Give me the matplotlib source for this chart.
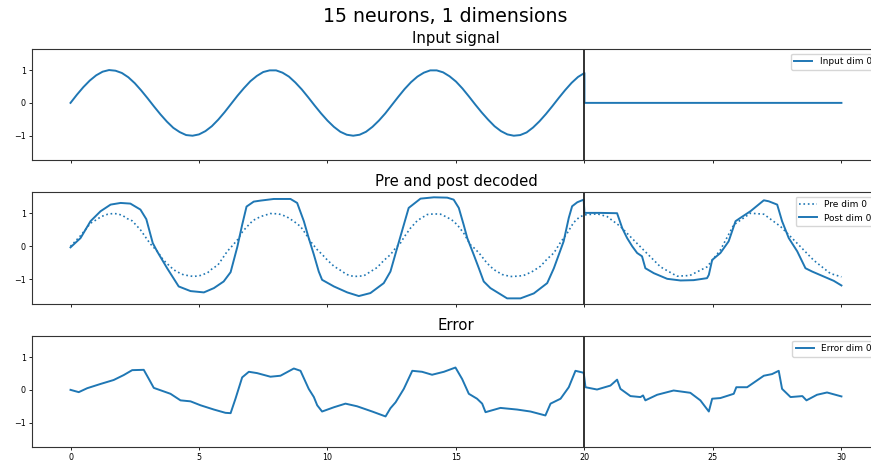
import numpy as np
import matplotlib
matplotlib.use("Agg")
import matplotlib.pyplot as plt

# ---- data (time in s) ----
# input signal: sine up to t=20, then held at zero
t_in = [0.0, 0.25, 0.5, 0.75, 1.0, 1.25, 1.5, 1.75, 2.0, 2.25, 2.5, 2.75, 3.0, 3.25, 3.5, 3.75,
        4.0, 4.25, 4.5, 4.75, 5.0, 5.25, 5.5, 5.75, 6.0, 6.25, 6.5, 6.75, 7.0, 7.25, 7.5, 7.75,
        8.0, 8.25, 8.5, 8.75, 9.0, 9.25, 9.5, 9.75, 10.0, 10.25, 10.5, 10.75, 11.0, 11.25, 11.5, 11.75,
        12.0, 12.25, 12.5, 12.75, 13.0, 13.25, 13.5, 13.75, 14.0, 14.25, 14.5, 14.75, 15.0, 15.25, 15.5, 15.75,
        16.0, 16.25, 16.5, 16.75, 17.0, 17.25, 17.5, 17.75, 18.0, 18.25, 18.5, 18.75, 19.0, 19.25, 19.5, 19.75,
        20.0, 20.0, 30.0]
input_sig = [0.00, 0.25, 0.48, 0.68, 0.84, 0.95, 1.00, 0.98, 0.91, 0.78, 0.60, 0.38, 0.14, -0.11, -0.35, -0.57,
             -0.76, -0.89, -0.98, -1.00, -0.96, -0.86, -0.71, -0.51, -0.28, -0.03, 0.22, 0.45, 0.66, 0.82, 0.94, 0.99,
             0.99, 0.92, 0.80, 0.62, 0.41, 0.17, -0.08, -0.32, -0.54, -0.73, -0.88, -0.97, -1.00, -0.97, -0.88, -0.73,
             -0.54, -0.32, -0.07, 0.18, 0.42, 0.63, 0.80, 0.92, 0.99, 0.99, 0.93, 0.81, 0.65, 0.44, 0.20, -0.05,
             -0.29, -0.51, -0.71, -0.86, -0.96, -1.00, -0.98, -0.90, -0.75, -0.56, -0.34, -0.10, 0.15, 0.39, 0.61, 0.79,
             0.91, 0.00, 0.00]

# decoded output of the pre population
t_pre = [0.0, 0.4, 0.78, 1.0, 1.2, 1.45, 1.65, 1.85, 2.05, 2.2, 2.4, 2.72, 2.9, 3.1, 3.38, 3.6, 3.89,
         4.1, 4.4, 4.79, 5.05, 5.33, 5.55, 5.72, 5.9, 6.1, 6.3, 6.5, 6.7, 6.9, 7.1, 7.4, 7.78,
         8.1, 8.4, 8.7, 8.95, 9.15, 9.34, 9.6, 9.8, 9.99, 10.25, 10.5, 10.75, 11.02, 11.41, 11.7, 11.93,
         12.2, 12.45, 12.65, 12.84, 13.0, 13.23, 13.5, 13.88, 14.15, 14.4, 14.65, 14.91, 15.1, 15.3, 15.56, 15.75,
         15.95, 16.2, 16.47, 16.8, 17.12, 17.4, 17.63, 17.95, 18.29, 18.55, 18.81, 19.05, 19.33, 19.58, 19.8, 20.0,
         20.5, 20.88, 21.4, 21.79, 22.3, 22.96, 23.6, 24.1, 24.77, 25.29, 25.81, 26.46, 26.98, 27.63, 28.28,
         28.92, 29.57, 30.0]
pre = [0.00, 0.33, 0.70, 0.80, 0.90, 0.97, 0.99, 0.98, 0.92, 0.84, 0.77, 0.50, 0.30, 0.08, -0.15, -0.40, -0.62,
       -0.75, -0.86, -0.91, -0.88, -0.80, -0.65, -0.58, -0.38, -0.15, 0.02, 0.20, 0.45, 0.62, 0.78, 0.90, 0.99,
       0.98, 0.90, 0.75, 0.60, 0.38, 0.15, -0.10, -0.25, -0.41, -0.60, -0.72, -0.85, -0.91, -0.89, -0.75, -0.64,
       -0.42, -0.25, -0.05, 0.10, 0.30, 0.55, 0.78, 0.96, 0.98, 0.97, 0.88, 0.76, 0.60, 0.40, 0.05, -0.08,
       -0.25, -0.50, -0.70, -0.85, -0.91, -0.90, -0.88, -0.77, -0.60, -0.38, -0.20, 0.10, 0.40, 0.72, 0.88, 0.95,
       0.98, 0.90, 0.60, 0.29, -0.11, -0.62, -0.90, -0.88, -0.62, -0.11, 0.65, 1.00, 0.97, 0.60, 0.09,
       -0.42, -0.82, -0.92]

# decoded output of the post population
t_post = [0.0, 0.39, 0.78, 1.17, 1.56, 1.95, 2.33, 2.72, 2.95, 3.2, 3.37, 3.76, 4.21, 4.67, 5.19, 5.58,
          5.96, 6.23, 6.49, 6.68, 6.85, 7.13, 7.39, 7.91, 8.56, 8.82, 9.08, 9.27, 9.47, 9.66, 9.79,
          10.25, 10.77, 11.22, 11.67, 12.19, 12.45, 12.71, 12.97, 13.16, 13.62, 14.14, 14.66, 14.91, 15.11,
          15.3, 15.44, 15.69, 15.89, 16.08, 16.34, 16.99, 17.51, 18.03, 18.55, 18.81, 19.19, 19.39, 19.52,
          19.72, 19.97, 20.0, 20.6, 21.27, 21.47, 21.66, 21.86, 22.05, 22.24, 22.37, 22.7, 23.22, 23.74,
          24.25, 24.77, 24.84, 24.97, 25.29, 25.61, 25.88, 26.07, 26.46, 26.98, 27.17, 27.5, 27.69, 27.95,
          28.28, 28.6, 28.86, 29.31, 29.7, 30.0]
post = [-0.03, 0.25, 0.76, 1.06, 1.26, 1.31, 1.29, 1.11, 0.82, 0.10, -0.15, -0.66, -1.21, -1.35, -1.39, -1.26,
        -1.06, -0.78, -0.02, 0.65, 1.20, 1.35, 1.38, 1.43, 1.43, 1.31, 0.76, 0.25, -0.25, -0.76, -1.01,
        -1.21, -1.39, -1.50, -1.41, -1.11, -0.76, -0.05, 0.65, 1.16, 1.44, 1.48, 1.47, 1.41, 1.16,
        0.65, 0.25, -0.25, -0.66, -1.06, -1.26, -1.57, -1.57, -1.42, -1.11, -0.66, 0.15, 0.86, 1.21,
        1.33, 1.41, 1.01, 1.01, 1.00, 0.55, 0.25, 0.00, -0.20, -0.30, -0.66, -0.81, -0.98, -1.03,
        -1.02, -0.96, -0.86, -0.41, -0.20, 0.15, 0.76, 0.86, 1.06, 1.39, 1.36, 1.26, 0.76, 0.25,
        -0.15, -0.66, -0.76, -0.91, -1.04, -1.18]

# error signal
t_err = [0.0, 0.32, 0.65, 1.17, 1.68, 2.07, 2.4, 2.85, 3.05, 3.24, 3.89, 4.28, 4.67, 5.06, 5.58, 6.03,
         6.23, 6.42, 6.68, 6.94, 7.26, 7.78, 8.17, 8.69, 8.95, 9.27, 9.47, 9.6, 9.79, 10.25, 10.7,
         11.15, 11.74, 12.26, 12.45, 12.65, 12.97, 13.3, 13.68, 14.07, 14.53, 14.98, 15.24, 15.5, 15.82,
         16.02, 16.15, 16.73, 17.38, 17.9, 18.48, 18.68, 19.07, 19.39, 19.65, 19.97, 20.04, 20.49, 21.01,
         21.27, 21.4, 21.79, 22.18, 22.28, 22.37, 22.83, 23.47, 24.12, 24.51, 24.84, 24.97, 25.29, 25.81,
         25.91, 26.33, 26.98, 27.3, 27.56, 27.69, 28.02, 28.48, 28.64, 29.05, 29.44, 30.0]
error = [0.00, -0.07, 0.05, 0.18, 0.30, 0.45, 0.60, 0.61, 0.33, 0.06, -0.12, -0.32, -0.35, -0.47, -0.60, -0.70,
         -0.71, -0.27, 0.38, 0.55, 0.51, 0.40, 0.43, 0.65, 0.58, 0.03, -0.22, -0.47, -0.66, -0.53, -0.42,
         -0.50, -0.66, -0.81, -0.56, -0.38, 0.03, 0.58, 0.55, 0.46, 0.55, 0.68, 0.33, -0.12, -0.27,
         -0.42, -0.68, -0.55, -0.60, -0.66, -0.78, -0.42, -0.27, 0.08, 0.58, 0.52, 0.08, 0.01, 0.13,
         0.31, 0.03, -0.19, -0.22, -0.17, -0.32, -0.15, -0.02, -0.09, -0.32, -0.66, -0.27, -0.25, -0.12,
         0.08, 0.08, 0.43, 0.48, 0.58, 0.03, -0.22, -0.19, -0.32, -0.15, -0.08, -0.20]

t_switch = 20.0
blue = "#1f77b4"

fig = plt.figure(figsize=(8.71, 4.63), dpi=100)
left, width = 0.0367, 0.9736
ax1 = fig.add_axes([left, 0.6544, width, 0.2397])
ax2 = fig.add_axes([left, 0.3434, width, 0.2419], sharex=ax1, sharey=ax1)
ax3 = fig.add_axes([left, 0.0346, width, 0.2397], sharex=ax1, sharey=ax1)

ax1.plot(t_in, input_sig, color=blue, lw=1.4, label="Input dim 0")
ax2.plot(t_pre, pre, color=blue, lw=1.2, ls=":", label="Pre dim 0")
ax2.plot(t_post, post, color=blue, lw=1.4, label="Post dim 0")
ax3.plot(t_err, error, color=blue, lw=1.4, label="Error dim 0")

titles = ["Input signal", "Pre and post decoded", "Error"]
for ax, title in zip([ax1, ax2, ax3], titles):
    ax.axvline(t_switch, color="#222222", lw=1.3)
    ax.set_title(title, fontsize=10.7, pad=4)
    ax.legend(loc="upper right", fontsize=6.5)
    ax.tick_params(labelsize=5.8, length=2.5, width=0.6, pad=2)
    for sp in ax.spines.values():
        sp.set_linewidth(0.8)
        sp.set_color("#333333")

ax1.set_xlim(-1.5, 31.5)
ax1.set_ylim(-1.74, 1.64)
ax1.set_yticks([-1, 0, 1])
ax3.set_xticks([0, 5, 10, 15, 20, 25, 30])
ax1.tick_params(labelbottom=False)
ax2.tick_params(labelbottom=False)

fig.suptitle("15 neurons, 1 dimensions", x=0.511, y=0.985, fontsize=13.6)

fig.savefig("out.png", dpi=100)
